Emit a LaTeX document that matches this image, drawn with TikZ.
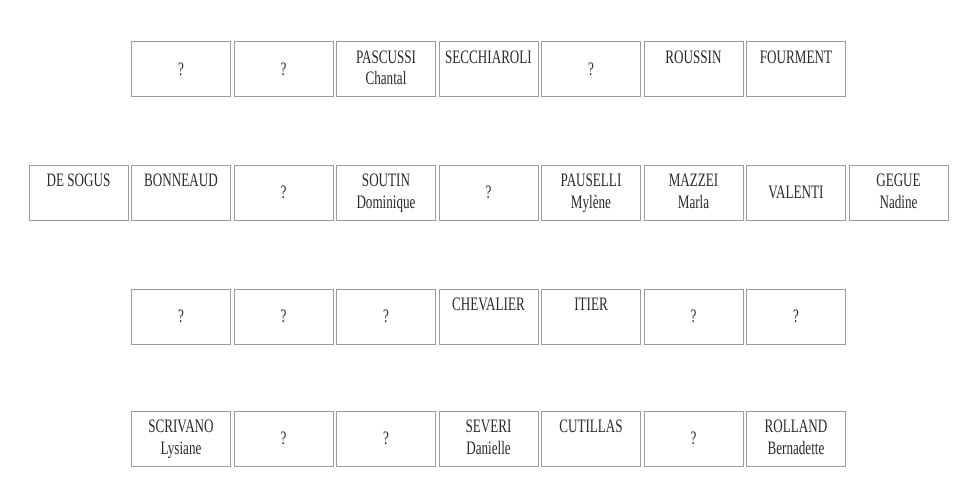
\documentclass[tikz,border=0pt]{standalone}
\usepackage{fontspec}
\setmainfont{Liberation Serif}[FakeStretch=0.69]
\definecolor{boxgray}{HTML}{9C9C9C}
\definecolor{txtgray}{HTML}{2A2A2A}
\newcommand\twoL[2]{\makebox[0pt]{\raisebox{6pt}{#1}}\makebox[0pt]{\raisebox{-15.5pt}{#2}}}
\newcommand\topL[1]{\makebox[0pt]{\raisebox{6pt}{#1}}}
\newcommand\midL[1]{\makebox[0pt]{\raisebox{-6pt}{#1}}}
\begin{document}
\begin{tikzpicture}[x=1pt,y=-1pt,
  cell/.style={draw=boxgray, line width=0.8pt, minimum width=99pt, minimum height=55pt,
    inner sep=0pt, text height=27.5pt, text depth=27.5pt, text=txtgray,
    font=\fontsize{19}{22}\selectfont}]
\fill[white] (0,0) rectangle (966,483);
\useasboundingbox (0,0) rectangle (966,483);
\def\cx#1{78.5+102.5*#1}
% row 1
\node[cell] (r1a) at ({\cx{1}},69) {\midL{?}};
\node[cell] (r1b) at ({\cx{2}},69) {\midL{?}};
\node[cell] (r1c) at ({\cx{3}},69) {\twoL{PASCUSSI}{Chantal}};
\node[cell] (r1d) at ({\cx{4}},69) {\topL{SECCHIAROLI}};
\node[cell] (r1e) at ({\cx{5}},69) {\midL{?}};
\node[cell] (r1f) at ({\cx{6}},69) {\topL{ROUSSIN}};
\node[cell] (r1g) at ({\cx{7}},69) {\topL{FOURMENT}};
% row 2
\node[cell] (r2a) at ({\cx{0}},192.5) {\topL{DE SOGUS}};
\node[cell] (r2b) at ({\cx{1}},192.5) {\topL{BONNEAUD}};
\node[cell] (r2c) at ({\cx{2}},192.5) {\midL{?}};
\node[cell] (r2d) at ({\cx{3}},192.5) {\twoL{SOUTIN}{Dominique}};
\node[cell] (r2e) at ({\cx{4}},192.5) {\midL{?}};
\node[cell] (r2f) at ({\cx{5}},192.5) {\twoL{PAUSELLI}{Mylène}};
\node[cell] (r2g) at ({\cx{6}},192.5) {\twoL{MAZZEI}{Marla}};
\node[cell] (r2h) at ({\cx{7}},192.5) {\midL{VALENTI}};
\node[cell] (r2i) at ({\cx{8}},192.5) {\twoL{GEGUE}{Nadine}};
% row 3
\node[cell] (r3a) at ({\cx{1}},316.5) {\midL{?}};
\node[cell] (r3b) at ({\cx{2}},316.5) {\midL{?}};
\node[cell] (r3c) at ({\cx{3}},316.5) {\midL{?}};
\node[cell] (r3d) at ({\cx{4}},316.5) {\topL{CHEVALIER}};
\node[cell] (r3e) at ({\cx{5}},316.5) {\topL{ITIER}};
\node[cell] (r3f) at ({\cx{6}},316.5) {\midL{?}};
\node[cell] (r3g) at ({\cx{7}},316.5) {\midL{?}};
% row 4
\node[cell] (r4a) at ({\cx{1}},438.5) {\twoL{SCRIVANO}{Lysiane}};
\node[cell] (r4b) at ({\cx{2}},438.5) {\midL{?}};
\node[cell] (r4c) at ({\cx{3}},438.5) {\midL{?}};
\node[cell] (r4d) at ({\cx{4}},438.5) {\twoL{SEVERI}{Danielle}};
\node[cell] (r4e) at ({\cx{5}},438.5) {\topL{CUTILLAS}};
\node[cell] (r4f) at ({\cx{6}},438.5) {\midL{?}};
\node[cell] (r4g) at ({\cx{7}},438.5) {\twoL{ROLLAND}{Bernadette}};
\end{tikzpicture}
\end{document}
